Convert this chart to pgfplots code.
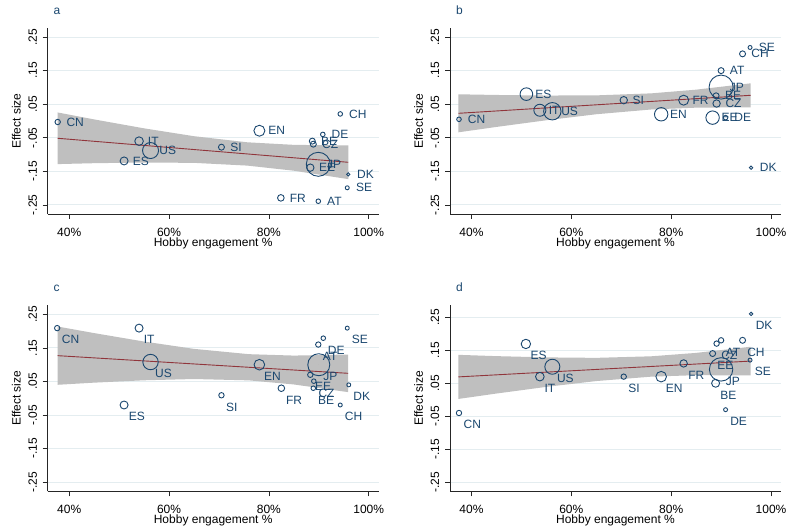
\documentclass[border=0pt]{standalone}
\usepackage{fontspec}
\setmainfont{Liberation Sans}
\usepackage{pgfplots}
\usepackage{pgfplotstable}
\pgfplotsset{compat=1.18}
\definecolor{snavy}{RGB}{26,71,111}
\definecolor{smaroon}{RGB}{144,53,59}
\definecolor{bandgray}{RGB}{191,191,191}
\definecolor{gridc}{RGB}{228,237,240}
\newcommand{\tf}{\fontsize{12}{14}\selectfont}
\pgfplotstableread{
x y r lab
0.377 -0.003 2.7 CN
0.540 -0.060 4.3 IT
0.563 -0.088 8.0 US
0.510 -0.119 4.0 ES
0.705 -0.078 3.0 SI
0.781 -0.029 5.5 EN
0.824 -0.229 3.3 FR
0.943 0.021 2.3 CH
0.908 -0.040 2.3 DE
0.887 -0.060 3.0 BE
0.889 -0.069 3.0 CZ
0.899 -0.129 12.0 JP
0.883 -0.139 3.7 EE
0.959 -0.159 1.7 DK
0.957 -0.199 2.0 SE
0.899 -0.239 2.3 AT
}\tabA
\pgfplotstableread{
x y r lab
0.375 0.005 2.3 CN
0.510 0.080 6.3 ES
0.537 0.032 6.0 IT
0.562 0.029 8.7 US
0.705 0.062 3.7 SI
0.780 0.020 6.7 EN
0.825 0.062 5.0 FR
0.958 0.219 2.0 SE
0.943 0.200 3.0 CH
0.900 0.150 3.0 AT
0.900 0.101 12.0 JP
0.890 0.075 3.0 BE
0.891 0.052 3.7 CZ
0.883 0.010 6.7 EE
0.909 0.010 2.3 DE
0.960 -0.139 1.7 DK
}\tabB
\pgfplotstableread{
x y r lab
0.376 0.209 2.7 CN
0.540 0.209 4.0 IT
0.563 0.108 7.7 US
0.510 -0.020 4.0 ES
0.705 0.009 2.7 SI
0.781 0.100 5.3 EN
0.825 0.030 3.3 FR
0.957 0.209 2.0 SE
0.909 0.179 2.3 DE
0.899 0.160 2.7 AT
0.900 0.100 11.0 JP
0.883 0.070 2.7 EE
0.890 0.051 2.3 CZ
0.889 0.030 2.3 BE
0.960 0.040 2.0 DK
0.943 -0.020 2.0 CH
}\tabC
\pgfplotstableread{
x y r lab
0.375 -0.040 2.7 CN
0.509 0.169 4.7 ES
0.562 0.100 7.5 US
0.537 0.070 4.3 IT
0.705 0.070 2.7 SI
0.780 0.070 5.3 EN
0.825 0.110 3.7 FR
0.960 0.260 1.7 DK
0.943 0.180 3.0 CH
0.958 0.120 2.0 SE
0.900 0.180 2.7 AT
0.891 0.170 2.7 CZ
0.883 0.140 3.0 EE
0.900 0.092 11.7 JP
0.889 0.050 4.0 BE
0.909 -0.030 2.0 DE
}\tabD
\pgfplotsset{
 panel/.style={
  scale only axis, width=331pt, height=186pt,
  xmin=0.357, xmax=1.02, ymin=-0.277, ymax=0.277,
  axis x line*=bottom, axis y line*=left,
  axis line style={black!85, line width=0.7pt},
  tick align=outside, major tick length=5pt,
  tick style={black!85, line width=0.7pt},
  xtick={0.4,0.6,0.8,1}, xticklabels={40\%,60\%,80\%,100\%},
  ytick={-0.25,-0.15,-0.05,0.05,0.15,0.25},
  yticklabels={-.25,-.15,-.05,.05,.15,.25},
  minor tick num=0,
  ymajorgrids, major grid style={gridc, line width=0.9pt},
  xticklabel style={font=\tf, inner sep=0pt, anchor=north},
  yticklabel style={font=\tf, inner sep=0pt, rotate=90, anchor=south},
  xticklabel shift=8.5pt, yticklabel shift=5.5pt,
  xlabel={Hobby engagement \%}, ylabel={Effect size},
  every axis x label/.style={at={(axis description cs:0.5,0)}, anchor=base, yshift=-32.7pt, font=\tf},
  every axis y label/.style={at={(axis description cs:-0.0816,0.5)}, rotate=90, anchor=base, font=\tf},
  title style={at={(axis description cs:0,1)}, anchor=base west, xshift=2.5pt, yshift=7.5pt, font=\tf, text=snavy},
  clip=false,
 },
 pts/.style={
  scatter, only marks, mark=o,
  mark options={line width=0.9pt},
  scatter/use mapped color={draw=snavy, fill=none},
  point meta=\thisrow{r},
  visualization depends on={\thisrow{r}\as\msz},
  scatter/@pre marker code/.append style={/tikz/mark size=\msz},
 },
 labs/.style={
  only marks, mark=*, mark size=0pt, mark options={draw=none, fill=none},
  point meta=explicit symbolic,
  nodes near coords,
  every node near coord/.append style={anchor=west, font=\tf, text=snavy, inner sep=0pt},
 },
 rightlab/.style={every node near coord/.append style={xshift=8.7pt}},
 belowlab/.style={every node near coord/.append style={xshift=4.5pt, yshift=-11.7pt}},
}
\begin{document}
\begin{tikzpicture}
\path[use as bounding box] (0,0) rectangle (788pt,526pt);
% ---------------- a
\begin{axis}[panel, at={(47.7pt,312pt)}, anchor=south west, title={a}]
\addplot[fill=bandgray, draw=none] coordinates {(0.377,0.0254) (0.45,0.0047) (0.55,-0.0219) (0.65,-0.0453) (0.757,-0.0635) (0.85,-0.0711) (0.959,-0.0729) (0.959,-0.1731) (0.85,-0.1481) (0.757,-0.1329) (0.65,-0.1247) (0.55,-0.1237) (0.45,-0.1257) (0.377,-0.1284)};
\addplot[smaroon, line width=0.9pt] coordinates {(0.377,-0.0515) (0.959,-0.123)};
\addplot[pts] table {\tabA};
\addplot[labs, rightlab] table[meta=lab] {\tabA};
\end{axis}
% ---------------- b
\begin{axis}[panel, at={(450pt,312pt)}, anchor=south west, title={b}]
\addplot[fill=bandgray, draw=none] coordinates {(0.374,0.0795) (0.45,0.0775) (0.55,0.0758) (0.65,0.0763) (0.76,0.0823) (0.85,0.0933) (0.959,0.1122) (0.959,0.0408) (0.85,0.0397) (0.76,0.0343) (0.65,0.0201) (0.55,0.0022) (0.45,-0.0177) (0.374,-0.0337)};
\addplot[smaroon, line width=0.9pt] coordinates {(0.374,0.0229) (0.959,0.0765)};
\addplot[pts] table {\tabB};
\addplot[labs, rightlab] table[meta=lab] {\tabB};
\end{axis}
% ---------------- c
\begin{axis}[panel, at={(47.7pt,34.7pt)}, anchor=south west, title={c}]
\addplot[fill=bandgray, draw=none] coordinates {(0.3767,0.2138) (0.45,0.1942) (0.55,0.169) (0.65,0.1472) (0.76,0.1314) (0.85,0.1272) (0.9587,0.1304) (0.9587,0.0184) (0.85,0.0412) (0.76,0.0534) (0.65,0.0574) (0.55,0.0536) (0.45,0.0466) (0.3767,0.0402)};
\addplot[smaroon, line width=0.9pt] coordinates {(0.3767,0.127) (0.9587,0.0744)};
\addplot[pts] table {\tabC};
\addplot[labs, belowlab] table[meta=lab] {\tabC};
\end{axis}
% ---------------- d
\begin{axis}[panel, at={(450pt,34.7pt)}, anchor=south west, title={d}, ymax=0.286]
\addplot[fill=bandgray, draw=none] coordinates {(0.374,0.136) (0.45,0.1321) (0.55,0.1283) (0.65,0.1269) (0.76,0.1316) (0.85,0.1419) (0.959,0.1605) (0.959,0.0737) (0.85,0.0745) (0.76,0.07) (0.65,0.0567) (0.55,0.0391) (0.45,0.0189) (0.374,0.0026)};
\addplot[smaroon, line width=0.9pt] coordinates {(0.374,0.0693) (0.959,0.1171)};
\addplot[pts] table {\tabD};
\addplot[labs, belowlab] table[meta=lab] {\tabD};
\end{axis}
\end{tikzpicture}
\end{document}
